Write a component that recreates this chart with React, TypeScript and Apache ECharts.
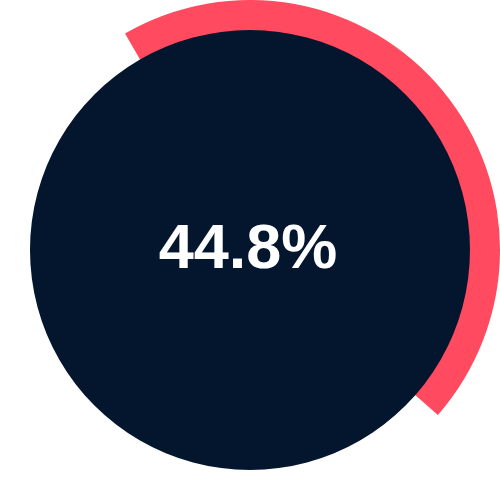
import * as echarts from 'echarts';
import { useEffect, useRef } from 'react';

// 占比数据
const share = 44.8;
const rest = 100 - share;
const label = `${share}%`;

export default function App() {
  const chartRef = useRef<HTMLDivElement>(null);

  useEffect(() => {
    if (!chartRef.current) return;
    const chart = echarts.init(chartRef.current, undefined, { renderer: 'svg' });

    chart.setOption({
      animation: false,
      backgroundColor: '#ffffff',
      series: [
        // 外圈进度弧
        {
          type: 'pie',
          center: [250, 250],
          radius: [219, 250],
          startAngle: 120,
          clockwise: true,
          silent: true,
          label: { show: false },
          labelLine: { show: false },
          data: [
            { value: share, itemStyle: { color: '#ff4a5f' } },
            { value: rest, itemStyle: { color: 'transparent' } },
          ],
        },
        // 中心实心圆
        {
          type: 'pie',
          center: [250, 250],
          radius: [0, 220],
          silent: true,
          label: { show: false },
          labelLine: { show: false },
          data: [{ value: 1, itemStyle: { color: '#04162e' } }],
        },
      ],
      graphic: [
        {
          type: 'text',
          x: 248,
          y: 246,
          z: 100,
          style: {
            text: label,
            fill: '#ffffff',
            fontSize: 63,
            fontWeight: 'bold',
            fontFamily: 'Liberation Sans',
            textAlign: 'center',
            textVerticalAlign: 'middle',
          },
        },
      ],
    });

    return () => chart.dispose();
  }, []);

  return (
    <div
      ref={chartRef}
      style={{ position: 'fixed', left: 0, top: 0, width: 500, height: 500 }}
    />
  );
}
